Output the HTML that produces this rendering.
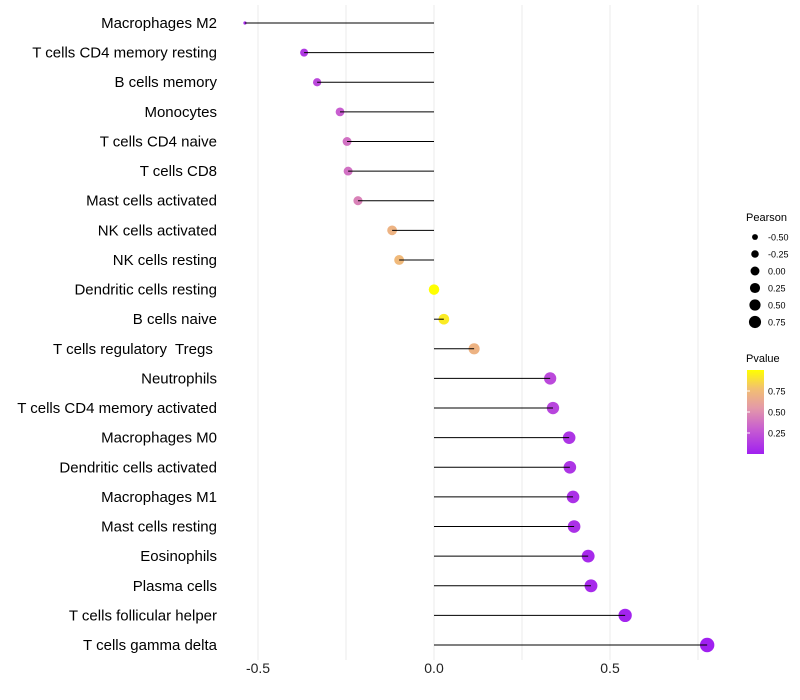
<!DOCTYPE html>
<html><head><meta charset="utf-8"><style>
body{margin:0;background:#fff;}
svg{display:block;font-family:"Liberation Sans",sans-serif;}
#labels text{white-space:pre;}
</style></head><body>
<svg id="chart" width="800" height="700">
<defs><linearGradient id="pg" x1="0" y1="1" x2="0" y2="0">
<stop offset="0" stop-color="#A020F0"/><stop offset="0.3" stop-color="#C85ED0"/><stop offset="0.55" stop-color="#E49AA8"/><stop offset="0.78" stop-color="#F2C070"/><stop offset="1" stop-color="#FFFF00"/></linearGradient></defs>
<g id="grid"></g><g id="points"></g><g id="marks"></g><g id="labels"></g><g id="xaxis"></g>
<g id="legend">
<text x="746" y="221" font-size="11">Pearson</text>
<g id="sizeleg"></g>
<text x="746" y="362" font-size="11">Pvalue</text>
<rect x="747" y="370" width="17" height="84" fill="url(#pg)"/>
<g id="colleg"></g>
</g>
</svg>
<script>
const categories=["Macrophages M2","T cells CD4 memory resting","B cells memory","Monocytes","T cells CD4 naive","T cells CD8","Mast cells activated","NK cells activated","NK cells resting","Dendritic cells resting","B cells naive","T cells regulatory  Tregs ","Neutrophils","T cells CD4 memory activated","Macrophages M0","Dendritic cells activated","Macrophages M1","Mast cells resting","Eosinophils","Plasma cells","T cells follicular helper","T cells gamma delta"];
const pearson=[-0.537,-0.369,-0.332,-0.267,-0.247,-0.244,-0.216,-0.119,-0.099,0.0,0.028,0.114,0.330,0.338,0.384,0.386,0.395,0.398,0.438,0.446,0.543,0.776];
const pvalues=[0.05,0.12,0.2,0.3,0.38,0.38,0.45,0.7,0.74,1.0,0.93,0.7,0.2,0.18,0.1,0.1,0.08,0.08,0.05,0.05,0.02,0.001];
const xTicks=[-0.5,0,0.5];
const xTickLabels=["-0.5","0.0","0.5"];
const sizeLegendVals=[-0.5,-0.25,0,0.25,0.5,0.75];
const colorLegendVals=[0.25,0.5,0.75];
const NS="http://www.w3.org/2000/svg";
function X(v){return 434+v*352;}
function Y(i){return 23+i*(622/21);}
function R(v){return v<-0.5?1.6:Math.sqrt(Math.max(2.5,27.5+31.3*v));}
function lerp(a,b,t){return a+(b-a)*t;}
const stops=[[0,[160,32,240]],[0.3,[200,94,208]],[0.55,[228,154,168]],[0.78,[242,192,112]],[1,[255,255,0]]];
function col(p){for(let k=1;k<stops.length;k++){if(p<=stops[k][0]){const a=stops[k-1],b=stops[k];const t=(p-a[0])/(b[0]-a[0]);return "rgb("+a[1].map((c,j)=>Math.round(lerp(c,b[1][j],t))).join(",")+")";}}return "rgb(255,255,0)";}
function mk(tag,attrs,parent){const e=document.createElementNS(NS,tag);for(const k in attrs)e.setAttribute(k,attrs[k]);parent.appendChild(e);return e;}
const grid=document.getElementById("grid");
[-0.5,-0.25,0,0.25,0.5,0.75].forEach(v=>{const l=mk("line",{x1:X(v),x2:X(v),y1:5,y2:660,stroke:"#ebebeb","stroke-width":1},grid);

});
const marks=document.getElementById("marks"),points=document.getElementById("points"),labels=document.getElementById("labels");
categories.forEach((c,i)=>{
const p=mk("circle",{cx:X(pearson[i]),cy:Y(i),r:R(pearson[i]),fill:col(pvalues[i])},points);


const s=mk("line",{x1:X(0),x2:X(pearson[i]),y1:Y(i),y2:Y(i),stroke:"#000","stroke-width":1},marks);


const t=mk("text",{x:217,y:Y(i)+5,"text-anchor":"end","font-size":15,fill:"#000"},labels);
t.textContent=c;


});
const xa=document.getElementById("xaxis");
xTicks.forEach((v,i)=>{const t=mk("text",{x:X(v),y:673,"text-anchor":"middle","font-size":14,fill:"#222"},xa);
t.textContent=xTickLabels[i];

});
const sl=document.getElementById("sizeleg");
sizeLegendVals.forEach((v,i)=>{const y=237+i*17;
const c=mk("circle",{cx:755,cy:y,r:Math.min(R(v)*0.85,7),fill:"#000"},sl);


const t=mk("text",{x:768,y:y+3.5,"font-size":9,fill:"#000"},sl);
t.textContent=v.toFixed(2);

});
const cl=document.getElementById("colleg");
colorLegendVals.forEach(v=>{const y=454-v*84;
const l=mk("line",{x1:747,x2:750,y1:y,y2:y,stroke:"#fff","stroke-width":1},cl);


const t=mk("text",{x:768,y:y+3.5,"font-size":9,fill:"#000"},cl);
t.textContent=v.toFixed(2);

});
</script>
</body></html>
